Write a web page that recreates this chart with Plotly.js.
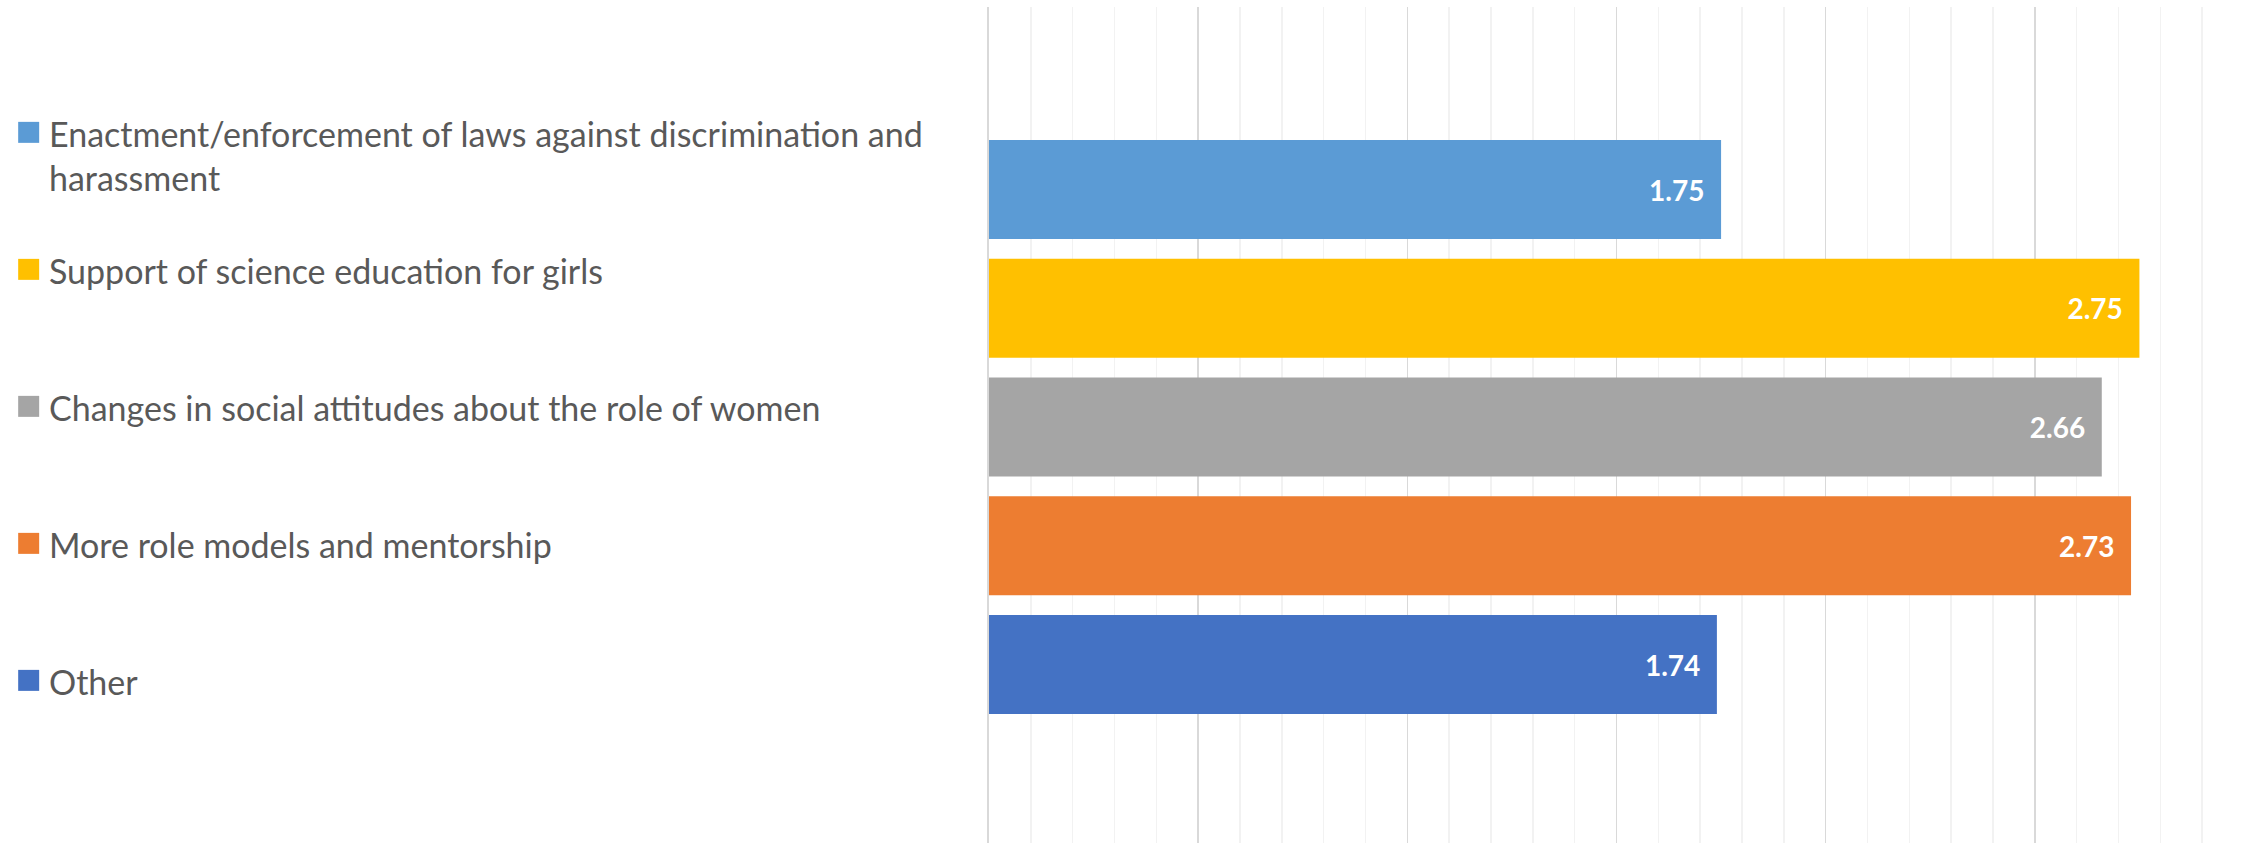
<!DOCTYPE html>
<html>
<head>
<meta charset="utf-8">
<script src="https://cdn.plot.ly/plotly-3.0.1.min.js"></script>
<style>
  html, body { margin: 0; padding: 0; background: #ffffff; }
  #chart { width: 2257px; height: 843px; }
</style>
</head>
<body>
<div id="chart"></div>
<script>
// ---- data ----
const categories = [
  "Enactment/enforcement of laws against discrimination and<br>harassment",
  "Support of science education for girls",
  "Changes in social attitudes about the role of women",
  "More role models and mentorship",
  "Other"
];
const values = [1.75, 2.75, 2.66, 2.73, 1.74];
const colors = ["#5B9BD5", "#FFC000", "#A5A5A5", "#ED7D31", "#4472C4"];

// ---- layout constants ----
const W = 2257, H = 843;
const marginL = 0, marginR = 13, marginT = 7, marginB = 0;
const plotLeftPx = 989;
const paperW = W - marginL - marginR;
const xDomainStart = plotLeftPx / paperW;
const legendMarkerX = 28.7;
const legendTextX = 48;
const FONT = "Lato, 'Open Sans', sans-serif";
const legendFontSize = 34;

const idx = categories.map((_, i) => i);

const barTrace = {
  type: "bar",
  orientation: "h",
  y: idx,
  x: values,
  marker: { color: colors, line: { width: 0 } },
  texttemplate: "%{x:.2f}\u00a0\u00a0",
  textposition: "inside",
  insidetextanchor: "end",
  textangle: 0,
  constraintext: "none",
  textfont: { family: FONT, size: 28, color: "#ffffff", weight: "bold" },
  hoverinfo: "skip",
  showlegend: false,
  xaxis: "x",
  yaxis: "y"
};

const legendMarkers = {
  type: "scatter",
  mode: "markers",
  x: idx.map(() => legendMarkerX),
  y: idx,
  marker: { symbol: "square", size: 21, color: colors, line: { width: 0 } },
  hoverinfo: "skip",
  showlegend: false,
  xaxis: "x2",
  yaxis: "y2",
  cliponaxis: false
};

const annotations = categories.map((c, i) => ({
  xref: "x2", yref: "y2",
  x: legendTextX, y: i,
  xanchor: "left", yanchor: "top",
  yshift: legendFontSize * 1.3 / 2 - 2,
  align: "left",
  borderpad: 0,
  showarrow: false,
  text: c,
  font: { family: FONT, size: legendFontSize, color: "#595959" }
}));

const layout = {
  width: W, height: H,
  margin: { l: marginL, r: marginR, t: marginT, b: marginB, pad: 0 },
  paper_bgcolor: "#ffffff",
  plot_bgcolor: "#ffffff",
  showlegend: false,
  bargap: 0.166,
  xaxis: {
    domain: [xDomainStart, 1],
    range: [0, 3],
    dtick: 0.5,
    tick0: 0,
    showgrid: true,
    gridcolor: "#d9d9d9",
    gridwidth: 1.5,
    minor: { dtick: 0.1, showgrid: true, gridcolor: "#f2f2f2", gridwidth: 1.5 },
    showticklabels: false,
    ticks: "",
    zeroline: false,
    showline: false,
    fixedrange: true
  },
  yaxis: {
    range: [5.503, -1.537],
    showgrid: false,
    showticklabels: false,
    ticks: "",
    zeroline: false,
    showline: true,
    linecolor: "#d9d9d9",
    linewidth: 2,
    fixedrange: true
  },
  xaxis2: {
    domain: [0, xDomainStart * 0.999],
    range: [0, plotLeftPx],
    anchor: "y2",
    visible: false,
    fixedrange: true
  },
  yaxis2: {
    domain: [0, 1],
    range: [5.187, -0.915],
    anchor: "x2",
    visible: false,
    fixedrange: true
  },
  annotations: annotations,
  font: { family: FONT }
};

Plotly.newPlot("chart", [barTrace, legendMarkers], layout, { staticPlot: true, displayModeBar: false });
</script>
</body>
</html>
